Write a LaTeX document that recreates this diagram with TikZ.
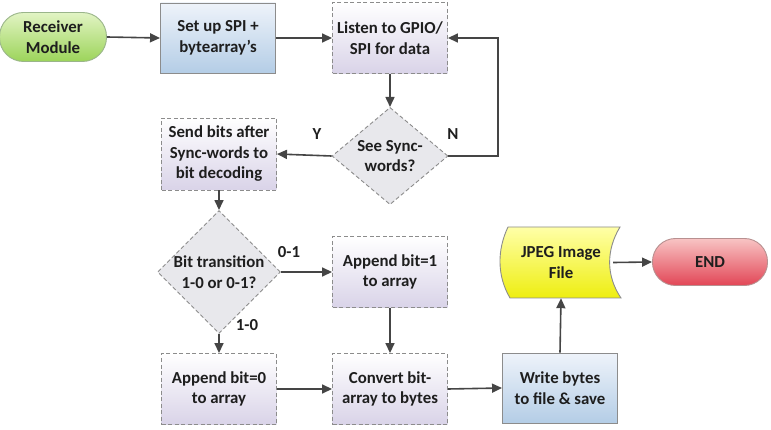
\documentclass[tikz,border=0pt]{standalone}
\usepackage{fontspec}
\setmainfont{Carlito}
\usetikzlibrary{arrows.meta,shapes.geometric}
\definecolor{txt}{HTML}{1E1E1E}
\definecolor{arr}{HTML}{454545}
\definecolor{bord}{HTML}{8C8C8C}
\tikzset{
  base/.style={font=\bfseries\fontsize{16.8}{20.5}\selectfont, text=txt, align=center, inner sep=1pt},
  dashbox/.style={base, rectangle, draw=bord, line width=0.9pt, dash pattern=on 4pt off 2.5pt,
     top color=white, bottom color=lav, minimum width=115pt, minimum height=71pt},
  bluebox/.style={base, rectangle, draw=bord, line width=0.9pt,
     top color=blueT, bottom color=blueB, minimum width=115pt, minimum height=70pt},
  decide/.style={base, diamond, draw=bord, line width=0.9pt, dash pattern=on 4pt off 2.5pt,
     fill=dia, minimum width=116pt, minimum height=72pt, inner sep=0pt},
  termgreen/.style={base, rectangle, rounded corners=24pt, draw=greenB, line width=0.9pt,
     top color=greenT, bottom color=greenBot, minimum width=107pt, minimum height=49pt},
  termred/.style={base, rectangle, rounded corners=23pt, draw=redB, line width=0.9pt,
     top color=redT, bottom color=redBot, minimum width=115pt, minimum height=47pt},
  conn/.style={draw=arr, line width=1.6pt, -{Triangle[length=10pt,width=9pt]}},
  lbl/.style={font=\bfseries\fontsize{16.8}{19}\selectfont, text=txt}
}
\definecolor{lav}{HTML}{D9D3E8}
\definecolor{blueT}{HTML}{EEF3FA}
\definecolor{blueB}{HTML}{B4CDE6}
\definecolor{dia}{HTML}{E8E8EC}
\definecolor{greenT}{HTML}{E2F4C4}
\definecolor{greenBot}{HTML}{9CD45A}
\definecolor{greenB}{HTML}{9AB58A}
\definecolor{redT}{HTML}{F8C4C4}
\definecolor{redBot}{HTML}{E24656}
\definecolor{redB}{HTML}{B89090}
\definecolor{yelT}{HTML}{FFFFA8}
\definecolor{yelB}{HTML}{EEEE10}
\begin{document}
\begin{tikzpicture}[x=1pt,y=-1pt]
\useasboundingbox (0,0) rectangle (771,430);

\node[termgreen] (recv) at (53,37) {Receiver\\Module};
\node[bluebox] (setup) at (218,38) {Set up SPI +\\bytearray's};
\node[dashbox] (listen) at (390,38) {Listen to GPIO/\\SPI for data};
\node[decide] (sync) at (390,156) {See Sync-\\words?};
\node[dashbox, minimum height=72pt] (send) at (219,154) {Send bits after\\Sync-words to\\bit decoding};
\node[decide, minimum width=115pt, minimum height=70pt] (bit) at (219,272) {Bit transition\\1-0 or 0-1?};
\node[dashbox] (app1) at (390,272) {Append bit=1\\to array};
\node[dashbox] (app0) at (219,389) {Append bit=0\\to array};
\node[dashbox] (conv) at (390,389) {Convert bit-\\array to bytes};
\node[bluebox] (write) at (560,388) {Write bytes\\to file \& save};

% JPEG tape-like shape
\shade[top color=yelT, bottom color=yelB, draw=bord, line width=0.9pt]
  (508,227) -- (620,227)
  .. controls (606,250) and (606,276) .. (621,298)
  -- (510,298)
  .. controls (497,276) and (497,250) .. (508,227) -- cycle;
\node[base, minimum width=104pt, minimum height=71pt] (jpeg) at (561,262.5) {JPEG Image\\File};
\node[termred] (end) at (710,262) {END};

\coordinate (nloop) at (498,156);

\draw[conn] (recv.east) -- (setup.west);
\draw[conn] (setup.east) -- (listen.west);
\draw[conn] (listen.south) -- (sync.north);
\draw[conn] (sync.east) -- (nloop) |- (listen.east);
\draw[conn] (sync.west) -- (send.east);
\draw[conn] (send.south) -- (bit.north);
\draw[conn] (bit.east) -- (app1.west);
\draw[conn] (bit.south) -- (app0.north);
\draw[conn] (app1.south) -- (conv.north);
\draw[conn] (app0.east) -- (conv.west);
\draw[conn] (conv.east) -- (write.west);
\draw[conn] (write.north) -- (jpeg.south);
\draw[conn] (jpeg.east) -- (end.west);

\node[lbl] (ylab) at (317,134) {Y};
\node[lbl] (nlab) at (453,134) {N};
\node[lbl] (l01) at (289,252) {0-1};
\node[lbl] (l10) at (247,325) {1-0};
\end{tikzpicture}
\end{document}
